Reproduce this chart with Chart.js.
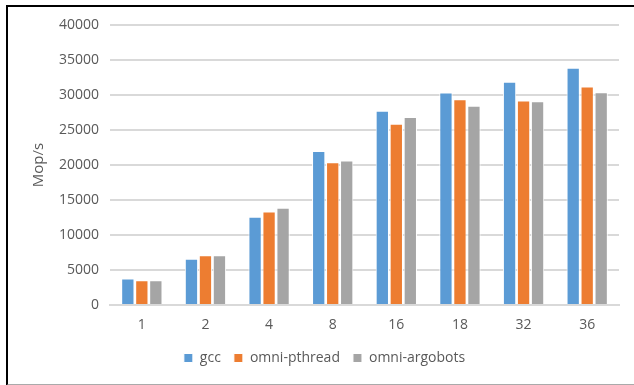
<!DOCTYPE html>
<html>
<head>
<meta charset="utf-8">
<script src="https://cdn.jsdelivr.net/npm/chart.js@4"></script>
<style>
  body { margin: 0; background: #fff; }
  #frame {
    position: absolute; left: 6px; top: 5px; width: 640px; height: 377px;
    border-top: 2px solid #000; border-left: 2px solid #000; border-bottom: 2px solid #aaa;
  }
  #wrap { position: absolute; left: 0; top: 0; width: 634px; height: 385px; }
</style>
</head>
<body>
<div id="frame"></div>
<div id="wrap"><canvas id="bar-chart" width="634" height="385"></canvas></div>
<script>
var threads = ['1', '2', '4', '8', '16', '18', '32', '36'];
var gcc = [3800, 6600, 12600, 22000, 27750, 30350, 31900, 33900];
var omniPthread = [3550, 7100, 13350, 20400, 25900, 29400, 29200, 31200];
var omniArgobots = [3550, 7100, 13900, 20650, 26850, 28450, 29100, 30400];
var yTicks = [0, 5000, 10000, 15000, 20000, 25000, 30000, 35000, 40000];

var textColor = '#595959';
var fontFamily = '"Open Sans", sans-serif';

new Chart(document.getElementById("bar-chart"), {
  type: 'bar',
  data: {
    labels: threads,
    datasets: [{
        label: 'gcc',
        data: gcc,
        backgroundColor: '#5B9BD5',
        borderColor: '#ffffff',
        borderWidth: 1
      }, {
        label: 'omni-pthread',
        data: omniPthread,
        backgroundColor: '#ED7D31',
        borderColor: '#ffffff',
        borderWidth: 1
      }, {
        label: 'omni-argobots',
        data: omniArgobots,
        backgroundColor: '#A5A5A5',
        borderColor: '#ffffff',
        borderWidth: 1
      }]
  },
  options: {
    responsive: false,
    animation: false,
    devicePixelRatio: 1,
    datasets: {
      bar: { categoryPercentage: 0.66, barPercentage: 0.95 }
    },
    layout: {
      padding: { top: 25, right: 15, bottom: 10, left: 30 }
    },
    plugins: {
      tooltip: { enabled: false },
      legend: {
        position: 'bottom',
        labels: {
          boxWidth: 9,
          boxHeight: 9,
          padding: 13,
          color: textColor,
          font: { family: fontFamily, size: 14 }
        }
      }
    },
    scales: {
      x: {
        grid: { display: false, drawTicks: false },
        border: { color: '#d9d9d9', width: 2 },
        ticks: { color: textColor, padding: 12, font: { family: fontFamily, size: 14 } },
        afterFit: function(scale) { scale.height = 33; }
      },
      y: {
        min: 0,
        max: 40000,
        afterBuildTicks: function(axis) {
          axis.ticks = yTicks.map(function(v) { return { value: v }; });
        },
        grid: { color: '#d9d9d9', lineWidth: 2, drawTicks: false },
        border: { display: false },
        ticks: {
          color: textColor,
          padding: 11,
          font: { family: fontFamily, size: 14 },
          callback: function(v) { return String(v); }
        },
        title: {
          display: true,
          text: 'Mop/s',
          color: textColor,
          padding: { top: 0, bottom: 0 },
          font: { family: fontFamily, size: 15 }
        }
      }
    }
  }
});
</script>
</body>
</html>
